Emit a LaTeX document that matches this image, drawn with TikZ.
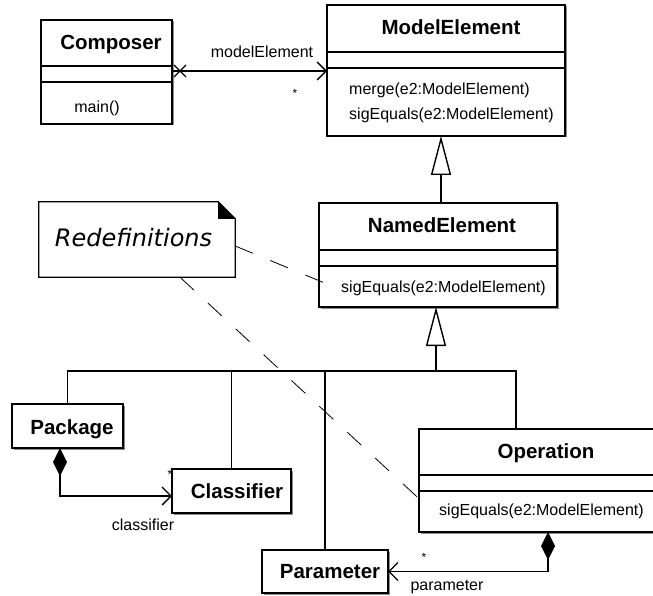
\documentclass[tikz,border=0pt]{standalone}
\usepackage{fontspec}
\setmainfont{Liberation Sans}
\newfontfamily\notefont{DejaVu Sans}
\usetikzlibrary{arrows.meta,shadows}
\tikzset{
  box/.style={draw, fill=white, line width=1.4pt, inner sep=0pt, outer sep=0pt,
    drop shadow={shadow xshift=1.5pt, shadow yshift=-1.5pt, fill=black!45, opacity=1}},
  divider/.style={line width=1.4pt},
  title/.style={font=\bfseries\fontsize{20.5}{24}\selectfont, anchor=base, inner sep=0pt},
  oper/.style={font=\fontsize{16}{19}\selectfont, anchor=base west, inner sep=0pt},
  lbl/.style={font=\fontsize{16}{19}\selectfont, anchor=base, inner sep=0pt},
  mult/.style={font=\fontsize{12}{14}\selectfont, inner sep=0pt},
  conn/.style={line width=1.4pt},
  assoc/.style={conn, -{Straight Barb[length=9pt,width=18pt,line width=1.4pt]}},
  compo/.style={conn, {Diamond[length=28pt,width=14pt,fill=black]}-{Straight Barb[length=9pt,width=18pt,line width=1.4pt]}},
  gen/.style={conn, -{Triangle[open,length=39pt,width=20pt,fill=white,line width=1.4pt]}},
  notelink/.style={line width=0.8pt, dash pattern=on 19pt off 19pt}
}
\begin{document}
\begin{tikzpicture}[x=1pt,y=-1pt]
\useasboundingbox (0,0) rectangle (653,596);

% ---- boxes ----
\node[box, minimum width=131pt, minimum height=104pt] (comp) at (106.5,72) {};
\node[box, minimum width=238pt, minimum height=131pt] (me) at (446,70.5) {};
\node[box, minimum width=238pt, minimum height=104pt] (ne) at (438,255) {};
\node[box, minimum width=111pt, minimum height=44pt] (pkg) at (67.5,426) {};
\node[box, minimum width=119pt, minimum height=44pt] (cls) at (231.5,491) {};
\node[box, minimum width=126pt, minimum height=43pt] (par) at (325,571.5) {};
\node[box, minimum width=237pt, minimum height=103pt] (op) at (537.5,480.5) {};

% ---- dividers ----
\draw[divider] (comp.west |- 0,66) -- (comp.east |- 0,66);
\draw[divider] (comp.west |- 0,82) -- (comp.east |- 0,82);
\draw[divider] (me.west |- 0,52) -- (me.east |- 0,52);
\draw[divider] (me.west |- 0,68) -- (me.east |- 0,68);
\draw[divider] (ne.west |- 0,250) -- (ne.east |- 0,250);
\draw[divider] (ne.west |- 0,266) -- (ne.east |- 0,266);
\draw[divider] (op.west |- 0,475) -- (op.east |- 0,475);
\draw[divider] (op.west |- 0,491) -- (op.east |- 0,491);

% ---- texts ----
\node[title] (tcomp) at (111,50) {Composer};
\node[lbl] (tmain) at (97,113) {main()};
\node[title] (tme) at (451,35) {ModelElement};
\node[oper] (tmerge) at (349,95) {merge(e2:ModelElement)};
\node[oper] (tmesig) at (349,120) {sigEquals(e2:ModelElement)};
\node[title] (tne) at (442,233) {NamedElement};
\node[oper] (tnesig) at (341,292) {sigEquals(e2:ModelElement)};
\node[title] (tpkg) at (72,434) {Package};
\node[title] (tcls) at (237,498) {Classifier};
\node[title] (tpar) at (330,578) {Parameter};
\node[title] (top) at (546,458) {Operation};
\node[oper] (topsig) at (439,515) {sigEquals(e2:ModelElement)};

% ---- note ----
\node[minimum width=196pt, minimum height=75pt, inner sep=0pt] (note) at (137,239.5) {};
\draw[line width=1.2pt, fill=white] (note.north west) -- ([xshift=-17pt]note.north east)
  -- ([yshift=-17pt]note.north east) -- (note.south east) -- (note.south west) -- cycle;
\fill ([xshift=-17pt]note.north east) -- ([yshift=-17pt]note.north east)
  -- ([xshift=-17pt,yshift=-17pt]note.north east) -- cycle;
\node[font=\notefont\itshape\fontsize{24}{28}\selectfont, anchor=base, inner sep=0pt] (tnote) at (133.5,247) {Redefinitions};

% ---- association Composer -> ModelElement ----
\draw[assoc] (comp.east |- 0,71) -- (me.west |- 0,71);
\coordinate (xm) at (180,71);
\draw[conn, shift={(xm)}] (-6,-6) -- (6,6) (-6,6) -- (6,-6);
\node[lbl] (lme) at (262,58) {modelElement};
\node[mult] (mme) at (295,93) {*};

% ---- generalizations ----
\draw[gen] (ne.north -| 441,0) -- (me.south -| 441,0);
\coordinate (j) at (436,371);
\draw[gen] (j) -- (ne.south -| j);
\draw[conn] (pkg.north) |- (j);
\draw[conn] (cls.north) |- (j);
\draw[conn] (par.north) |- (j);
\draw[conn] (op.north -| 516,0) |- (j);

% ---- compositions ----
\draw[compo] ([xshift=-7.5pt]pkg.south) |- ([yshift=-5pt]cls.west);
\node[mult] (mcls) at (170,474) {*};
\node[lbl] (lcls) at (143,530) {classifier};
\draw[compo] (op.south -| 548,0) |- (par.east);
\node[mult] (mpar) at (424,557) {*};
\node[lbl] (lpar) at (447,590) {parameter};

% ---- note links ----
\coordinate (d1) at (327,284);
\coordinate (d2) at (428,507);
\draw[notelink] ([yshift=-6.5pt]note.east) -- (d1);
\draw[notelink] ([xshift=43pt]note.south) -- (d2);
\end{tikzpicture}
\end{document}
